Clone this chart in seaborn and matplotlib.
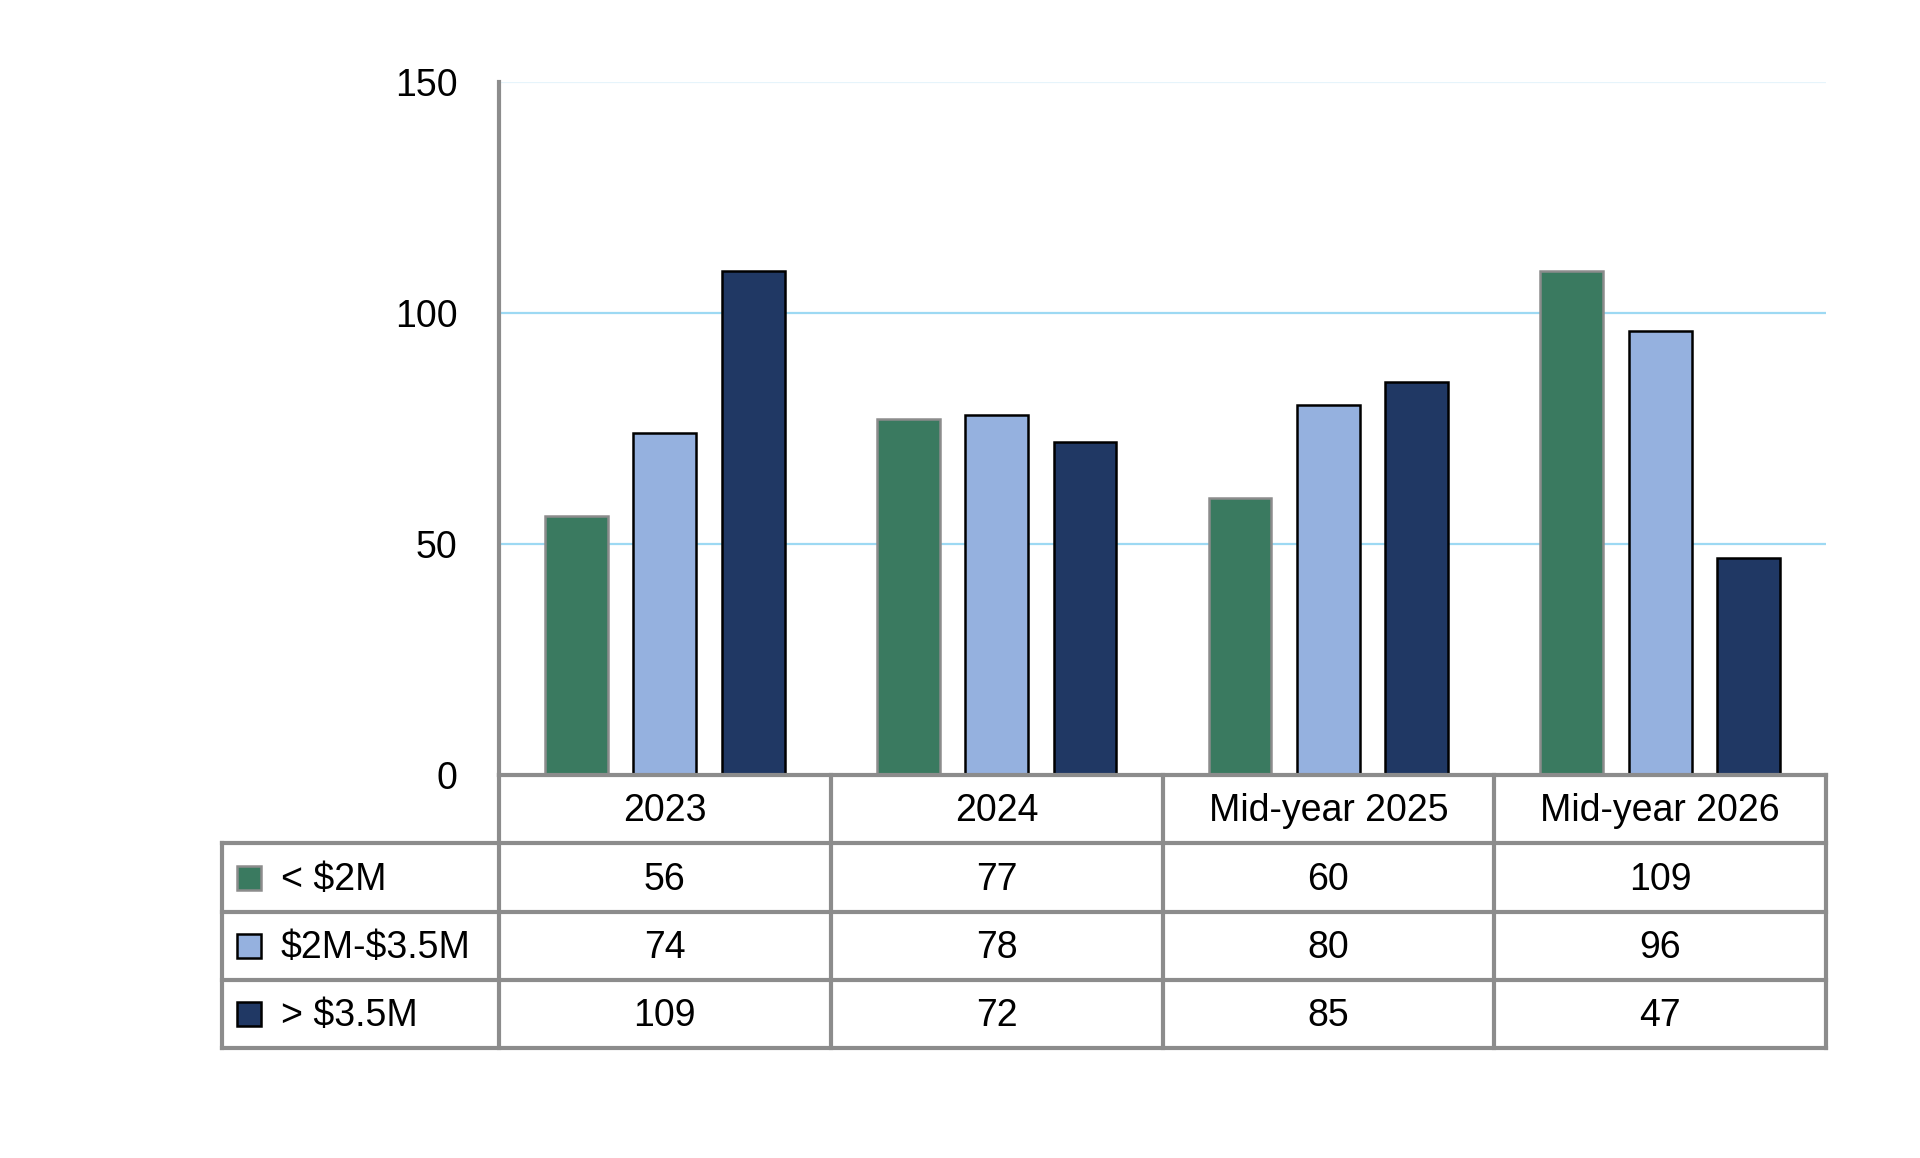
import pandas as pd
import seaborn as sns
import matplotlib.pyplot as plt
from matplotlib.patches import Rectangle
from matplotlib.lines import Line2D

categories = ['2023', '2024', 'Mid-year 2025', 'Mid-year 2026']
series = ['< $2M', '$2M-$3.5M', '> $3.5M']
under_2m = [56, 77, 60, 109]
mid_2m_35m = [74, 78, 80, 96]
over_35m = [109, 72, 85, 47]
yticks = [0, 50, 100, 150]

colors = ['#3A7A60', '#95B1DF', '#203864']
edges = ['#8C8C8C', '#000000', '#000000']
grid_col = '#9DD9F3'
line_col = '#8C8C8C'

values = [under_2m, mid_2m_35m, over_35m]
df = pd.DataFrame({
    'year': categories * 3,
    'band': [s for s in series for _ in categories],
    'count': under_2m + mid_2m_35m + over_35m,
})

sns.set_style('white')
plt.rcParams['text.parse_math'] = False
W, H = 1920, 1158
fig = plt.figure(figsize=(19.2, 11.58), dpi=100)

# axes area in pixels
x0, x1, y_top, y0 = 499, 1826, 82, 775
ax = fig.add_axes([x0 / W, 1 - y0 / H, (x1 - x0) / W, (y0 - y_top) / H])

sns.barplot(data=df, x='year', y='count', hue='band', hue_order=series,
            order=categories, palette=colors, width=0.8, gap=0.29,
            saturation=1, legend=False, ax=ax, zorder=3)
for cont, ec in zip(ax.containers, edges):
    for p in cont:
        p.set_edgecolor(ec)
        p.set_linewidth(1.8)

ax.set_ylim(0, 150)
ax.set_xlim(-0.5, len(categories) - 0.5)
ax.set_yticks(yticks)
ax.set_yticklabels([str(t) for t in yticks], fontsize=27, family='Liberation Sans', color='black')
ax.tick_params(axis='y', length=0, pad=30)
ax.set_xticks([])
ax.set_xlabel('')
ax.set_ylabel('')
for s in ['top', 'right', 'bottom']:
    ax.spines[s].set_visible(False)
ax.spines['left'].set_color(line_col)
ax.spines['left'].set_linewidth(3)
for t in [50, 100]:
    ax.axhline(t, color=grid_col, lw=1.6, zorder=1)
ax.axhline(150, color='#E6F4FB', lw=1.6, zorder=1)

# data table under the plot (figure pixel coords)
def fx(px):
    return px / W

def fy(py):
    return 1 - py / H

tfont = dict(family=['Liberation Sans'], fontsize=27, color='black')
rows = [775, 843, 912, 980, 1048]
col_edges = [x0 + i * (x1 - x0) / len(categories) for i in range(len(categories) + 1)]
left = 222
lw = 3

def hline(xa, xb, py):
    fig.add_artist(Line2D([fx(xa), fx(xb)], [fy(py), fy(py)], color=line_col, lw=lw,
                          solid_capstyle='projecting'))

def vline(px, ya, yb):
    fig.add_artist(Line2D([fx(px), fx(px)], [fy(ya), fy(yb)], color=line_col, lw=lw,
                          solid_capstyle='projecting'))

hline(x0, x1, rows[0])
for r in rows[1:]:
    hline(left, x1, r)
for cx in col_edges:
    vline(cx, rows[0], rows[-1])
vline(left, rows[1], rows[-1])

for i, cat in enumerate(categories):
    cx = (col_edges[i] + col_edges[i + 1]) / 2
    fig.text(fx(cx), fy((rows[0] + rows[1]) / 2 + 2), cat, ha='center', va='center', **tfont)
    for j in range(len(series)):
        cy = (rows[j + 1] + rows[j + 2]) / 2 + 2
        fig.text(fx(cx), fy(cy), str(values[j][i]), ha='center', va='center', **tfont)

for j, name in enumerate(series):
    cy = (rows[j + 1] + rows[j + 2]) / 2
    sq = 24
    fig.add_artist(Rectangle((fx(237), fy(cy + sq / 2)), sq / W, sq / H,
                             facecolor=colors[j], edgecolor=edges[j], lw=1.8))
    fig.text(fx(281), fy(cy + 2), name, ha='left', va='center', **tfont)

fig.savefig('out.png', dpi=100, facecolor='white')
